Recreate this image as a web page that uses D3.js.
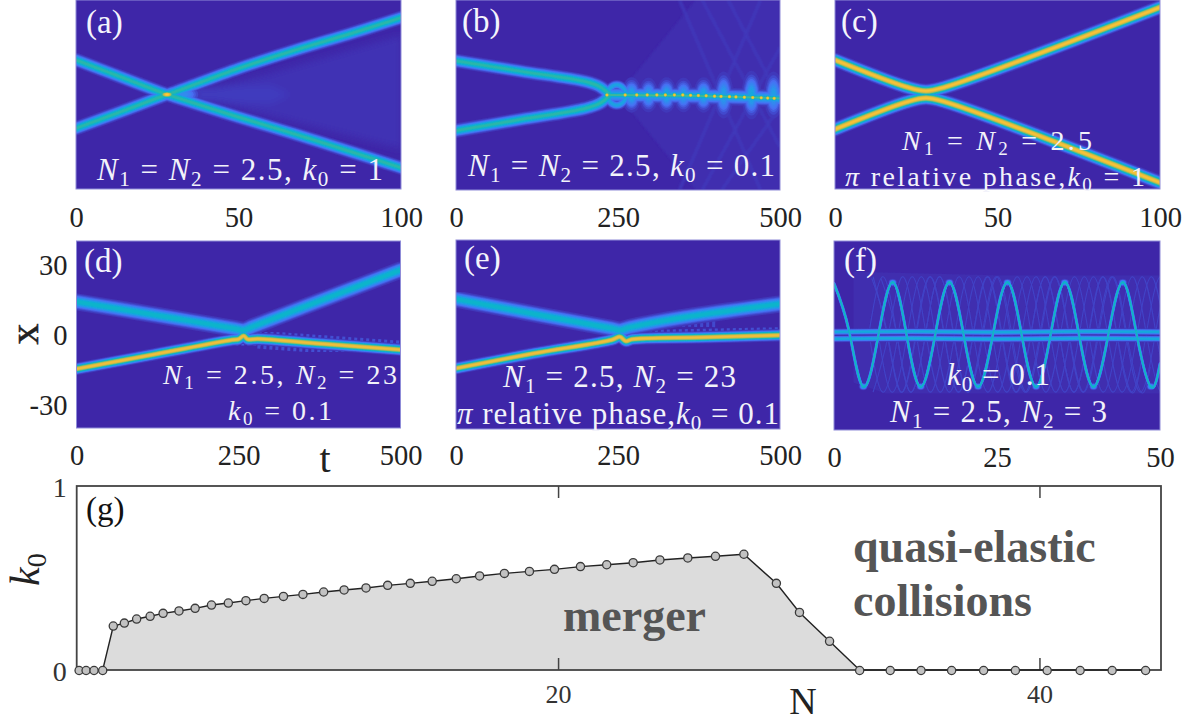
<!DOCTYPE html>
<html><head><meta charset="utf-8">
<script src="https://cdn.jsdelivr.net/npm/d3@7/dist/d3.min.js"></script>
<style>html,body{margin:0;background:#fff}svg{display:block}text{font-family:"Liberation Serif",serif}</style>
</head><body><svg id="c" width="1198" height="721"></svg>
<script>
// ---------- values: [t, x] ----------
const aDown=[[0,14.6],[14,7.3],[26,1],[28,0],[30,-0.9],[50,-9.6],[67,-16.6],[85,-24.4],[100,-31]];
const aUp=[[0,-14.3],[14,-7.2],[26,-1],[28,0],[30,0.9],[50,11],[67,18.6],[85,26],[100,32.5]];
const bUpper=[[0,14.4],[100,10],[200,5.6],[222,3.5],[235,0.7]];
const bLower=[[0,-15],[100,-10.3],[200,-5.6],[222,-3.5],[235,-0.7]];
const bMerged=[[235,0],[350,-0.3],[420,-0.7],[500,-1.4]];
const bDotsT=[233,261,279,295,310,323,337,350,362,374,386,399,409,422,432,445,458,471,481,491];
const bLobesT=[271,297,325,351,382,413,456,490];
const bRing=[[233,0],[238,3],[248,4.3],[258,3],[263,0],[258,-3],[248,-4.3],[238,-3],[233,0]];
const cUpper=[[0,14.6],[22,3.2],[28,1.5],[34,3.2],[100,36.9]];
const cLower=[[0,-14.7],[22,-3.2],[28,-1.5],[34,-3.2],[100,-37.3]];
const dUpper=[[0,14],[150,7],[245,2.5],[258,1.9],[272,3.4],[350,11.7],[500,27.6]];
const dLower=[[0,-14.7],[120,-8.5],[240,-2.3],[250,-2],[258,-0.6],[264,-2],[280,-1.9],[380,-4],[500,-6.5]];
const eUpper=[[0,15],[130,8.2],[240,2.6],[253,1.9],[268,3],[350,7.2],[500,12.9]];
const eLower=[[0,-14.3],[120,-8],[240,-2.3],[253,-1],[262,-2.8],[272,-2],[380,-1.2],[500,-0.3]];
const fWave=[[0,22],[2.3,2],[4.5,-21.8],[6.8,0],[9,22.6],[11.15,0],[13.3,-21.8],[15.5,0],[17.7,22.6],[19.9,0],[22.1,-21.8],[24.35,0],[26.6,22.6],[28.8,0],[31,-21.8],[33.2,0],[35.4,22.6],[37.6,0],[39.8,-21.8],[42.05,0],[44.3,22.6],[46.45,0],[48.6,-21.8],[50,-12]];
const fBandA=[[0,1.5],[12,1.7],[25,1.4],[38,1.7],[50,1.5]];
const fBandB=[[0,-1.4],[12,-1.2],[25,-1.5],[38,-1.2],[50,-1.4]];
const fGhostShifts=[1.5,3,4.4,5.8,7.2,-1.5,-3];
const fPeaksT=[9,17.7,26.6,35.4,44.3];
const fTroughsT=[4.5,13.3,22.1,31,39.8,48.6];
const gN=[0.1,0.39,0.72,1.08,1.52,1.98,2.49,3.05,3.59,4.25,4.92,5.6,6.3,7.03,7.79,8.59,9.4,10.26,11.11,12.02,12.92,13.86,14.77,15.77,16.74,17.77,18.81,19.85,20.93,22.02,23.12,24.23,25.39,26.54,27.72,29.07,30.03,31.28,32.53,33.8,35.08,36.35,37.68,39,40.32,41.69,43.02,44.41];
const gK=[0,0,0,0,0.239,0.255,0.277,0.292,0.308,0.321,0.335,0.353,0.364,0.377,0.389,0.4,0.411,0.424,0.435,0.446,0.46,0.471,0.482,0.496,0.511,0.525,0.536,0.547,0.562,0.572,0.583,0.598,0.609,0.618,0.629,0.471,0.313,0.156,0,0,0,0,0,0,0,0,0,0];
const tickA=[0,50,100], tickB=[0,250,500], tickF=[0,25,50], tickX=[-30,0,30], tickN=[20,40], tickK=[0,1];

// ---------- colour map ----------
const parula=d3.scaleLinear().domain([0,.125,.25,.375,.5,.625,.75,.875,1])
  .range(["#3e26a8","#4771f5","#2797eb","#08b4d0","#33b7a0","#91bf68","#e0b940","#fec735","#f9fb15"]);
const levels=d3.range(.03,.99,.03);

const svg=d3.select("#c");
const defs=svg.append("defs");
[["soft",.6],["soft1",1],["soft3",3.5]].forEach(([id,s])=>
  defs.append("filter").attr("id",id).attr("x","-10%").attr("y","-10%").attr("width","120%").attr("height","120%")
    .append("feGaussianBlur").attr("stdDeviation",s));

function line(p,sigma,peak,curve){return {p,sigma,peak,curve:curve||d3.curveCatmullRom};}
function spot(t,x,peak,sx,sy){return {t,x,peak,sx,sy};}
function drawLabel(root,str,x0,x1,base,size){
  const t=root.append("text").attr("x",x0).attr("y",base).attr("fill","#f2f2fa").attr("font-size",size)
     .attr("textLength",x1-x0).attr("lengthAdjust","spacing").style("white-space","pre");
  const re=/([Nkπ])(?:_(\d))?|[^Nkπ]+/g; let m, pending=0;
  while((m=re.exec(str))){
    if(m[1]){
      t.append("tspan").attr("font-style","italic").attr("dy",pending||null).text(m[1]); pending=0;
      if(m[2]){t.append("tspan").attr("font-size",size*.68).attr("dy",size*.18).text(m[2]); pending=-size*.18;}
    } else {t.append("tspan").attr("dy",pending||null).text(m[0]); pending=0;}
  }
}
function panel(o){
  const g=svg.append("g");
  const xs=d3.scaleLinear().domain(o.td).range([o.l,o.r]);
  const ys=d3.scaleLinear().domain([-40,40]).range([o.b,o.t]);
  defs.append("clipPath").attr("id","clip"+o.id).append("rect").attr("x",o.l).attr("y",o.t).attr("width",o.r-o.l).attr("height",o.b-o.t);
  const clip=g.append("g").attr("clip-path",`url(#clip${o.id})`);
  clip.append("rect").attr("x",o.l-5).attr("y",o.t-5).attr("width",o.r-o.l+10).attr("height",o.b-o.t+10).attr("fill",parula(0));
  const fl=clip.append("g").attr("filter",`url(#${o.faintFilter||"soft3"})`);
  const plot=clip.append("g").attr("filter","url(#soft)");
  (o.faint||[]).forEach(f=>{
    if(f.area) fl.append("path").attr("d",d3.line().x(d=>xs(d[0])).y(d=>ys(d[1]))(f.area)).attr("fill",parula(f.level));
    else fl.append("path").attr("d",d3.line().curve(f.curve||d3.curveLinear).x(d=>xs(d[0])).y(d=>ys(d[1]))(f.p)).attr("fill","none").attr("stroke",parula(f.level)).attr("stroke-width",f.w||1.5).attr("stroke-dasharray",f.dash||null);
  });
  levels.forEach(l=>{
    o.lines.forEach(k=>{
      if(k.peak<=l) return;
      const w=2*k.sigma*Math.sqrt(2*Math.log(k.peak/l));
      plot.append("path").attr("d",d3.line().curve(k.curve).x(d=>xs(d[0])).y(d=>ys(d[1]))(k.p))
        .attr("fill","none").attr("stroke",parula(l)).attr("stroke-width",w).attr("stroke-linecap","round").attr("stroke-linejoin","round");
    });
    (o.spots||[]).forEach(s=>{
      if(s.peak<=l) return;
      const q=Math.sqrt(2*Math.log(s.peak/l));
      plot.append("ellipse").attr("cx",xs(s.t)).attr("cy",ys(s.x)).attr("rx",s.sx*q).attr("ry",s.sy*q).attr("fill",parula(l));
    });
  });
  g.append("rect").attr("x",o.l).attr("y",o.t).attr("width",o.r-o.l).attr("height",o.b-o.t).attr("fill","none").attr("stroke","#8f8cd8").attr("stroke-width",1);
  const ax=g.append("g").attr("transform",`translate(0,${o.b})`).call(d3.axisBottom(xs).tickValues(o.ticks).tickSize(0).tickFormat(String));
  ax.select(".domain").remove();
  ax.selectAll("text").attr("y",o.tickBase-o.b).attr("dy",0).attr("font-size",28.5).attr("fill","#222").style("font-family",'"Liberation Serif",serif');
  if(o.yTicks){
    const ay=g.append("g").attr("transform",`translate(${o.l},0)`).call(d3.axisLeft(ys).tickValues(o.yTicks).tickSize(0).tickFormat(String));
    ay.select(".domain").remove();
    ay.selectAll("text").attr("x",-9).attr("dy",10).attr("font-size",28.5).attr("fill","#222").style("font-family",'"Liberation Serif",serif');
  }
  g.append("text").attr("x",o.tag[1]).attr("y",o.tag[2]).attr("font-size",33).attr("fill","#f4f4fc").text(o.tag[0]);
  o.labels.forEach(a=>drawLabel(g,a[0],a[1],a[2],a[3],a[4]||31));
}

panel({id:"a",l:76,r:401,t:0,b:189,td:[0,100],ticks:tickA,tickBase:227,tag:["(a)",86,33],
  faint:[{area:[[34,0],[60,9],[100,25],[100,-23],[60,-9]],level:.02},{area:[[36,3],[60,4],[66,0],[60,-4],[36,-3]],level:.035}],
  lines:[line(aDown,3,.5),line(aUp,3,.5)],
  spots:[spot(33,0,.24,9,5),spot(28,0,.93,4.5,2)],
  labels:[["N_1 = N_2 = 2.5, k_0 = 1",97,383,180]]});

const bFaint=[{area:[[250,0],[370,-40],[500,-40],[500,40],[370,40]],level:.012}];
[[[345,-40],[470,40]],[[380,-40],[500,20]],[[410,-40],[500,-5]],[[470,-40],[345,40]],[[500,-22],[380,40]],[[500,-2],[420,40]]]
  .forEach(p=>bFaint.push({p,level:.03,w:3}));
panel({id:"b",l:456,r:780,t:0,b:190,td:[0,500],ticks:tickB,tickBase:227,tag:["(b)",462,32],
  faint:bFaint,faintFilter:"soft1",
  lines:[line(bUpper,3,.5),line(bLower,3,.5),line(bMerged,4,.34),line(bMerged,1.5,.55),line(bRing,2.2,.32)],
  spots:bLobesT.map((t,i)=>spot(t,0,i%2?.3:.34,4.5,i>4?11:8)).concat(bDotsT.map(t=>spot(t,t<350?0:-(t-350)/100,.93,1.6,1.5))),
  labels:[["N_1 = N_2 = 2.5, k_0 = 0.1",468,775,176]]});

panel({id:"c",l:835,r:1160,t:0,b:189,td:[0,100],ticks:tickA,tickBase:227,tag:["(c)",841,32],
  lines:[line(cUpper,2.8,.86),line(cLower,2.8,.86)],
  labels:[["N_1 = N_2 = 2.5",902,1092,150,28],["π relative phase,k_0 = 1",845,1145,186,28]]});

panel({id:"d",l:76.5,r:400.5,t:241,b:428,td:[0,500],ticks:tickB,tickBase:465,yTicks:tickX,tag:["(d)",84,272],
  faint:[{p:[[280,-2.2],[500,-6.5]],level:.07,w:18,dash:"3 3"},{p:[[245,0],[285,0]],level:.09,w:22,dash:"3 3"}],faintFilter:"soft",
  lines:[line(dUpper,3.7,.42),line(dLower,2.4,.84)],
  labels:[["N_1 = 2.5, N_2 = 23",163,397,384,28],["k_0 = 0.1",228,332,420,28]]});

panel({id:"e",l:456,r:780,t:240,b:429,td:[0,500],ticks:tickB,tickBase:465,tag:["(e)",464,269],
  faint:[{p:[[270,-1.6],[500,-0.3]],level:.07,w:16,dash:"3 3"},{p:[[275,5],[400,4.6]],level:.06,w:7,dash:"3 3"}],faintFilter:"soft",
  lines:[line(eUpper,3.7,.42),line(eLower,2.4,.84)],
  labels:[["N_1 = 2.5, N_2 = 23",503,736,387],["π relative phase,k_0 = 0.1",457,779,424]]});

const fFaint=[{area:[[3,27],[25,25.5],[50,25.5],[50,-24.6],[8,-24.6],[3,-20]],level:.012}];
fGhostShifts.forEach(s=>fFaint.push({p:fWave.map(d=>[d[0]+s,d[1]*1.1]).filter(d=>d[0]>5),level:.05,w:1.1,curve:d3.curveNatural}));
panel({id:"f",l:834,r:1160,t:241,b:430,td:[0,50],ticks:tickF,tickBase:467,tag:["(f)",844,271],
  faint:fFaint,faintFilter:"soft",
  lines:[line(fBandA,1.5,.36),line(fBandB,1.5,.36),line(fWave,.75,.46,d3.curveNatural)],
  spots:fPeaksT.map(t=>spot(t,22.4,.38,2,1.7)).concat(fTroughsT.map(t=>spot(t,-21.6,.38,2,1.7))),
  labels:[["k_0 = 0.1",947,1050,385],["N_1 = 2.5, N_2 = 3",890,1107,422]]});

// ---------- panel (g) ----------
const gl=76.7,gr=1161,gt=486,gb=670;
const xN=d3.scaleLinear().domain([0,45.05]).range([gl,gr]);
const yK=d3.scaleLinear().domain([0,1]).range([gb,gt]);
const pts=gN.map((n,i)=>[n,gK[i]]);
const G=svg.append("g");
G.append("path").attr("d",d3.area().x(d=>xN(d[0])).y0(gb).y1(d=>yK(d[1]))(pts)).attr("fill","#dcdcdc");
const axB=G.append("g").attr("transform",`translate(0,${gb})`).call(d3.axisBottom(xN).tickValues(tickN).tickSize(-12).tickFormat(String));
axB.select(".domain").remove();
axB.selectAll("line").attr("stroke","#444").attr("stroke-width",1.5);
axB.selectAll("text").attr("y",33).attr("dy",0).attr("font-size",26).attr("fill","#333").style("font-family",'"Liberation Serif",serif');
const axT=G.append("g").attr("transform",`translate(0,${gt})`).call(d3.axisTop(xN).tickValues(tickN).tickSize(-12).tickFormat(""));
axT.select(".domain").remove();
axT.selectAll("line").attr("stroke","#444").attr("stroke-width",1.5);
const axL=G.append("g").attr("transform",`translate(${gl},0)`).call(d3.axisLeft(yK).tickValues(tickK).tickSize(0).tickFormat(String));
axL.select(".domain").remove();
axL.selectAll("text").attr("x",-10).attr("dy",10).attr("font-size",28).attr("fill","#333").style("font-family",'"Liberation Serif",serif');
G.append("rect").attr("x",gl).attr("y",gt).attr("width",gr-gl).attr("height",gb-gt).attr("fill","none").attr("stroke","#444").attr("stroke-width",1.8);
G.append("path").attr("d",d3.line().x(d=>xN(d[0])).y(d=>yK(d[1]))(pts)).attr("fill","none").attr("stroke","#222").attr("stroke-width",1.4);
G.selectAll("circle").data(pts).join("circle").attr("cx",d=>xN(d[0])).attr("cy",d=>yK(d[1])+(d[1]===0?.5:0)).attr("r",4.1)
  .attr("fill","#c2c2c2").attr("stroke","#3a3a3a").attr("stroke-width",1.3);
G.append("text").attr("x",86).attr("y",520).attr("font-size",33).attr("fill","#111").text("(g)");
const bold=(s,x,y)=>G.append("text").attr("x",x).attr("y",y).attr("font-size",46).attr("font-weight","bold").attr("fill","#555").text(s);
bold("merger",563,631); bold("quasi-elastic",853,562); bold("collisions",853,616);

// ---------- axis titles ----------
svg.append("text").attr("transform","translate(38,334) rotate(-90)").attr("text-anchor","middle").attr("font-size",42).attr("fill","#222").attr("stroke","#222").attr("stroke-width",.5).text("x");
svg.append("text").attr("x",325).attr("y",472).attr("text-anchor","middle").attr("font-size",40).attr("fill","#222").text("t");
svg.append("text").attr("x",803).attr("y",714).attr("text-anchor","middle").attr("font-size",38).attr("fill","#222").text("N");
const k0=svg.append("text").attr("transform","translate(39,586) rotate(-90)").attr("font-size",42).attr("fill","#222");
k0.append("tspan").attr("font-style","italic").text("k");
k0.append("tspan").attr("font-size",28).attr("dy",7).text("0");
</script></body></html>
